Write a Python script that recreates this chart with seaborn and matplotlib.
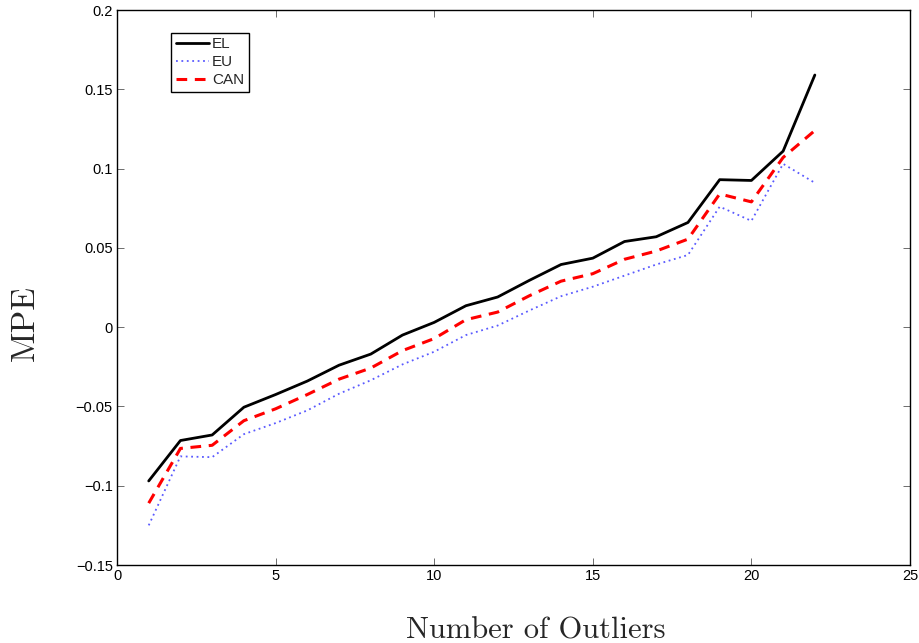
import numpy as np
import pandas as pd
import matplotlib
matplotlib.use("Agg")
import matplotlib.pyplot as plt
import seaborn as sns

# ---- data ----
outliers = list(range(1, 23))
el = [-0.097, -0.0715, -0.068, -0.0505, -0.0425, -0.034, -0.024, -0.017, -0.005, 0.003,
      0.0135, 0.019, 0.0295, 0.0395, 0.0435, 0.054, 0.057, 0.066, 0.093, 0.0925, 0.111, 0.159]
eu = [-0.125, -0.0815, -0.082, -0.0675, -0.0605, -0.0525, -0.042, -0.0335, -0.0235, -0.0155,
      -0.005, 0.001, 0.0105, 0.0195, 0.0255, 0.0325, 0.0395, 0.0455, 0.076, 0.067, 0.103, 0.091]
can = [-0.111, -0.0765, -0.0745, -0.059, -0.0515, -0.0425, -0.0328, -0.0258, -0.0148, -0.0072,
       0.0047, 0.0095, 0.0198, 0.029, 0.0337, 0.0428, 0.048, 0.0555, 0.084, 0.079, 0.107, 0.124]
series_names = ["EL", "EU", "CAN"]
xticks = [0, 5, 10, 15, 20, 25]
xtick_labels = ["0", "5", "10", "15", "20", "25"]
yticks = [-0.15, -0.1, -0.05, 0, 0.05, 0.1, 0.15, 0.2]
ytick_labels = ["\u22120.15", "\u22120.1", "\u22120.05", "0", "0.05", "0.1", "0.15", "0.2"]
xlabel = "Number of Outliers"
ylabel = "MPE"

sns.set_style("ticks")
plt.rcParams["font.family"] = ["Liberation Sans", "DejaVu Sans"]

fig = plt.figure(figsize=(9.19, 6.43), dpi=100)
ax = fig.add_axes([117 / 919, 1 - 565 / 643, (910 - 117) / 919, (565 - 10) / 643])

sns.lineplot(x=outliers, y=el, ax=ax, color="black", linewidth=2.0, linestyle="-", label=series_names[0])
sns.lineplot(x=outliers, y=eu, ax=ax, color="#5a5aff", linewidth=1.3, linestyle=(0, (1, 2)), label=series_names[1])
sns.lineplot(x=outliers, y=can, ax=ax, color="#ff0000", linewidth=2.2, linestyle=(0, (3.5, 2.5)), label=series_names[2])

ax.set_xlim(0, 25)
ax.set_ylim(-0.15, 0.2)
ax.set_xticks(xticks)
ax.set_xticklabels(xtick_labels)
ax.set_yticks(yticks)
ax.set_yticklabels(ytick_labels)
ax.tick_params(axis="both", which="both", direction="in", length=5, width=0.6,
               color="#555555", labelsize=10.5, labelcolor="black",
               top=True, right=True, pad=3)
for s in ax.spines.values():
    s.set_visible(True)
    s.set_linewidth(1.0)
    s.set_color("black")

ax.set_xlabel(xlabel, fontfamily="cmr10", fontsize=22, va="center", ha="center")
ax.xaxis.set_label_coords(0.528, -0.119)
ax.set_ylabel(ylabel, fontfamily="cmr10", fontsize=24, va="center", ha="center")
ax.yaxis.set_label_coords(-0.115, 0.436)

leg = ax.legend(loc="upper left", bbox_to_anchor=(0.068, 0.959), borderaxespad=0,
                fancybox=False, frameon=True, fontsize=11, handlelength=2.2,
                handletextpad=0.2, labelspacing=0.25, borderpad=0.3)
leg.get_frame().set_edgecolor("black")
leg.get_frame().set_linewidth(1.0)
leg.get_frame().set_alpha(1)

fig.savefig("out.png", dpi=100)
